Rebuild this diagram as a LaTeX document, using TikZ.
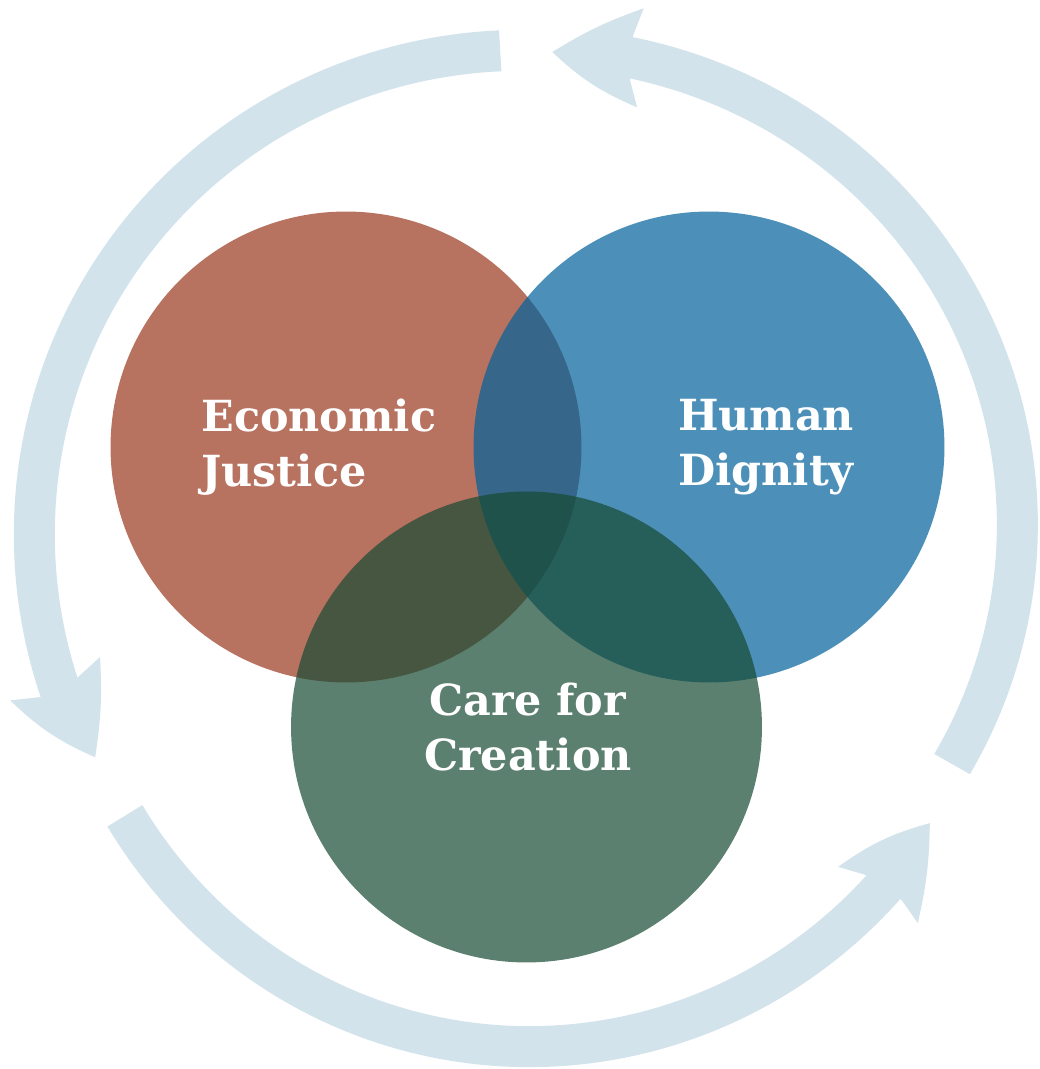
\documentclass[tikz,border=0pt]{standalone}
\usepackage{fontspec}
\setmainfont{DejaVu Serif}
\definecolor{ejred}{RGB}{152,54,29}
\definecolor{hdblue}{RGB}{0,97,155}
\definecolor{ccgreen}{RGB}{23,74,51}
\definecolor{ringblue}{RGB}{210,227,236}
\tikzset{venn/.style={
    % The shape:
    circle,
    % The size:
    minimum size=9.42cm,
    inner sep=0pt,
    % The filling:
    fill opacity=0.7,
    },
    venntext/.style={
    font=\fontsize{24.4}{31.3}\selectfont\bfseries,
    text=white,
    inner sep=0pt,
    },
    cyclearrow/.style={
    draw=ringblue,
    line width=0.82cm,
    },
    cyclehead/.style={
    fill=ringblue,
    },
}

\begin{document}
\begin{tikzpicture}[x=0.02cm, y=0.02cm]
    \useasboundingbox (0,0) rectangle (1040,1069);
    \clip (0,0) rectangle (1040,1069);
    \coordinate (hub) at (528,521);

    % the cycle round the circles
    \draw[cyclearrow, shift={(hub)}] plot[domain=93.2:197.5, samples=80, variable=\a]
        (\a:{498-(\a-93.2)/104.3*9+6*sin((\a-93.2)/104.3*180)});
    \fill[cyclehead, shift={(hub)}] (197:510) -- (196.4:539.8) to[bend right=10] (205.8:480.8)
        to[bend right=6] (194.3:441.7) -- (196:468) -- cycle;

    \draw[cyclearrow, shift={(hub)}] plot[domain=213.6:317.5, samples=80, variable=\a]
        (\a:{484+(\a-213.6)/103.9*7+11*sin((\a-213.6)/103.9*180)});
    \fill[cyclehead, shift={(hub)}] (315.9:469.6) -- (314.2:444.8) to[bend left=10] (325.6:487)
        to[bend left=6] (316.1:541) -- (316.7:513.6) -- cycle;

    \draw[cyclearrow, shift={(hub)}] plot[domain=-27:79, samples=80, variable=\a]
        (\a:{476+(\a+27)/106*25+9*sin((\a+27)/106*180)});
    \fill[cyclehead, shift={(hub)}] (77.7:479) -- (76.1:454) to[bend left=10] (87.2:496.6)
        to[bend left=6] (77.9:552) -- (78.4:523.6) -- cycle;

    % the three circles
    \node (ej) [venn, fill=ejred]   at (346,622)   {};
    \node (hd) [venn, fill=hdblue]  at (709,622)   {};
    \node (cc) [venn, fill=ccgreen] at (526.5,342) {};

    \node (ejtext) [venntext, anchor=west, align=left] at (201,621.5) {Economic\\Justice};
    \node (hdtext) [venntext, align=center] at (766,621.5) {Human\\Dignity};
    \node (cctext) [venntext, align=center] at (528,341.5) {Care for\\Creation};
\end{tikzpicture}
\end{document}
